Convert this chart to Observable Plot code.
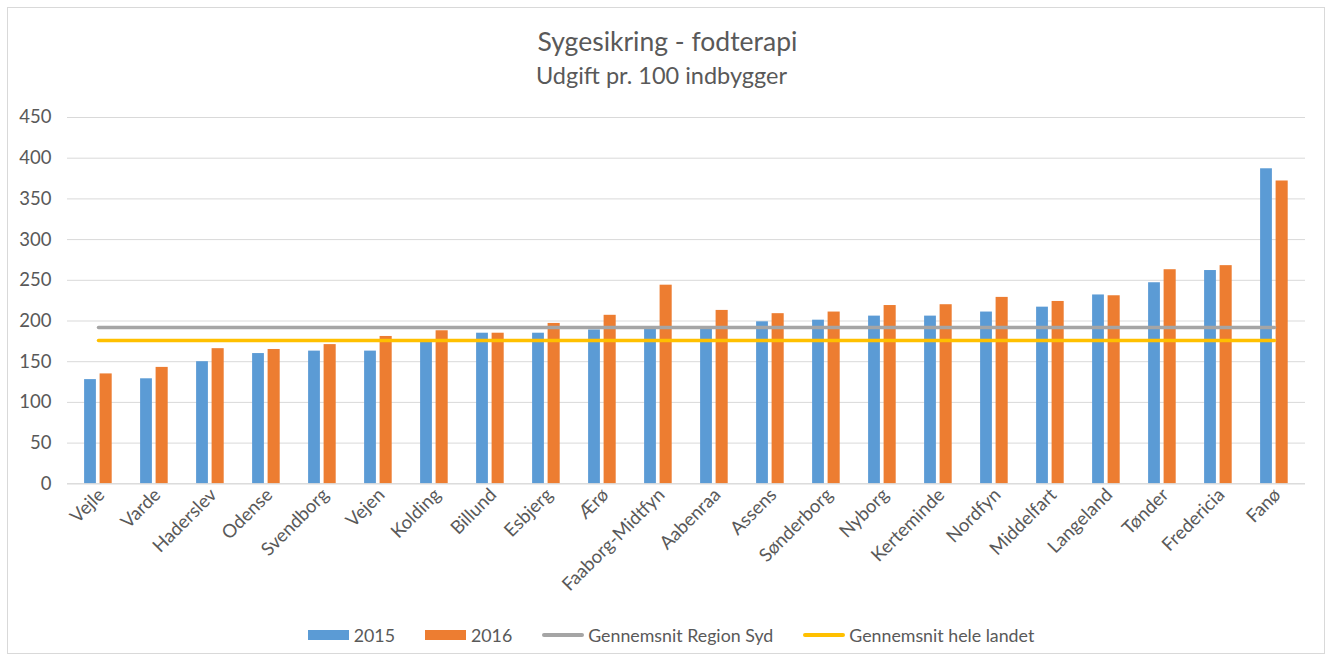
<!DOCTYPE html>
<html>
<head>
<meta charset="utf-8">
<script src="https://cdn.jsdelivr.net/npm/d3@7"></script>
<script src="https://cdn.jsdelivr.net/npm/@observablehq/plot@0.6"></script>
<style>
  html, body { margin: 0; padding: 0; background: #fff; }
  #wrap { position: relative; width: 1330px; height: 662px; overflow: hidden; font-family: Lato, "Open Sans", sans-serif; color: #595959; }
  #frame { position: absolute; left: 7px; top: 7px; width: 1318px; height: 647px; border: 1.5px solid #d9d9d9; box-sizing: border-box; }
  #title { position: absolute; left: 0; width: 1335px; top: 26px; text-align: center; font-size: 26.5px; line-height: 30px; }
  #subtitle { position: absolute; left: 0; width: 1323px; top: 61px; text-align: center; font-size: 23.5px; line-height: 28px; }
  #chart { position: absolute; left: 0; top: 100px; }
  #legend { position: absolute; top: 623px; left: 0; width: 1342px; display: flex; justify-content: center; align-items: center; font-size: 17.8px; line-height: 24px; }
  .item { display: flex; align-items: center; margin: 0 15px; }
  .sw { width: 41px; height: 10px; margin-right: 5px; }
  .ln { width: 42px; height: 3.5px; border-radius: 2px; margin-right: 4px; }
</style>
</head>
<body>
<div id="wrap">
  <div id="frame"></div>
  <div id="title"></div>
  <div id="subtitle"></div>
  <div id="chart"></div>
  <div id="legend"></div>
</div>
<script>
const titleText = "Sygesikring - fodterapi";
const subtitleText = "Udgift pr. 100 indbygger";
const municipalities = ["Vejle","Varde","Haderslev","Odense","Svendborg","Vejen","Kolding","Billund","Esbjerg","Ærø","Faaborg-Midtfyn","Aabenraa","Assens","Sønderborg","Nyborg","Kerteminde","Nordfyn","Middelfart","Langeland","Tønder","Fredericia","Fanø"];
const values2015 = [128,129,150,160,163,163,177,185,185,189,191,192,199,201,206,206,211,217,232,247,262,387];
const values2016 = [135,143,166,165,171,181,188,185,197,207,244,213,209,211,219,220,229,224,231,263,268,372];
const avgRegionSyd = 192;
const avgHeleLandet = 176;
const yTicks = [0,50,100,150,200,250,300,350,400,450];
const seriesNames = ["2015","2016","Gennemsnit Region Syd","Gennemsnit hele landet"];
const seriesColors = ["#5B9BD5","#ED7D31","#A5A5A5","#FFC000"];

const rows = municipalities.map((m, i) => ({name: m, v2015: values2015[i], v2016: values2016[i]}));

document.getElementById("title").textContent = titleText;
document.getElementById("subtitle").textContent = subtitleText;

const chart = Plot.plot({
  width: 1330,
  height: 504,
  marginTop: 17,
  marginBottom: 120.7,
  marginLeft: 67,
  marginRight: 25,
  style: {fontFamily: "Lato, 'Open Sans', sans-serif", fontSize: "18.5px", color: "#595959", background: "transparent"},
  x: {domain: municipalities, padding: 0},
  y: {domain: [0, 450]},
  marks: [
    Plot.gridY(yTicks, {stroke: "#d9d9d9", strokeOpacity: 1, strokeWidth: 1}),
    Plot.axisY(yTicks, {tickSize: 0, tickPadding: 16, label: null, fill: "#595959"}),
    Plot.barY(rows, {x: "name", y: "v2015", fill: seriesColors[0], insetLeft: 14.1, insetRight: 30.1}),
    Plot.barY(rows, {x: "name", y: "v2016", fill: seriesColors[1], insetLeft: 29.6, insetRight: 14.3}),
    Plot.ruleY([0], {stroke: "#d9d9d9", strokeWidth: 1}),
    Plot.axisX({tickSize: 0, tickPadding: 8, tickRotate: -45, label: null, fill: "#595959", dx: 3}),
    Plot.lineY(municipalities, {x: d => d, y: () => avgRegionSyd, stroke: seriesColors[2], strokeWidth: 3.5}),
    Plot.lineY(municipalities, {x: d => d, y: () => avgHeleLandet, stroke: seriesColors[3], strokeWidth: 3.5})
  ]
});
document.getElementById("chart").appendChild(chart);

const legend = document.getElementById("legend");
seriesNames.forEach((name, i) => {
  const item = document.createElement("div");
  item.className = "item";
  const sw = document.createElement("div");
  sw.className = i < 2 ? "sw" : "ln";
  sw.style.background = seriesColors[i];
  const t = document.createElement("span");
  t.textContent = name;
  item.appendChild(sw);
  item.appendChild(t);
  legend.appendChild(item);
});
</script>
</body>
</html>
